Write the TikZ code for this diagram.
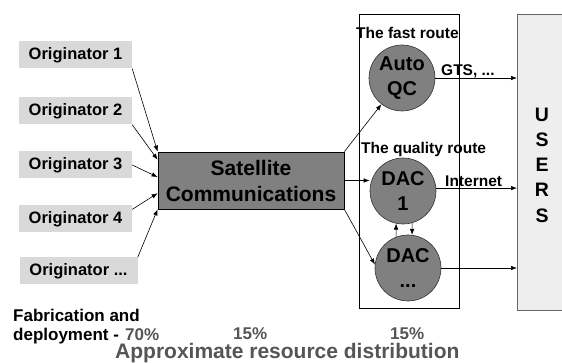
\documentclass[tikz,border=0pt]{standalone}
\usepackage{fontspec}
\setmainfont{Liberation Sans}
\usetikzlibrary{arrows.meta,calc}
\definecolor{origfill}{RGB}{217,217,217}
\definecolor{midgray}{RGB}{128,128,128}
\definecolor{usersfill}{RGB}{238,238,238}
\definecolor{pctgray}{RGB}{85,85,85}
\begin{document}
\begin{tikzpicture}[x=1pt,y=-1pt,
  orig/.style={fill=origfill, minimum width=113pt, minimum height=27pt, inner sep=0pt, font=\fontsize{16.5}{19}\selectfont\bfseries},
  proc/.style={circle, fill=midgray, draw=black!80, line width=0.6pt, minimum size=66pt, inner sep=0pt, align=center, font=\fontsize{20}{24.5}\selectfont\bfseries},
  conn/.style={-{Latex[length=6pt,width=4.5pt]}, line width=0.6pt},
  lbl/.style={font=\fontsize{15.5}{18}\selectfont\bfseries, inner sep=0pt, anchor=base west},
  bottomtxt/.style={font=\fontsize{17}{20}\selectfont\bfseries, inner sep=0pt, anchor=base west},
  pct/.style={bottomtxt, text=pctgray},
]
\useasboundingbox (0,0) rectangle (562,363);

% frames
\node[draw, line width=0.6pt, minimum width=100pt, minimum height=294pt, inner sep=0pt] (route) at (409,161) {};
\node[draw=black!60, line width=0.8pt, fill=usersfill, minimum width=60pt, minimum height=296pt, inner sep=0pt, anchor=north west] (users) at (517,14) {};
\node[font=\fontsize{19.5}{25.3}\selectfont\bfseries, align=center, inner sep=0pt] (userstxt) at (542,165) {U\\S\\E\\R\\S};

% originators
\node[orig] (o1) at (75.5,55) {Originator 1};
\node[orig] (o2) at (75.5,111) {Originator 2};
\node[orig] (o3) at (75.5,165) {Originator 3};
\node[orig] (o4) at (75.5,219) {Originator 4};
\node[orig, minimum width=118pt] (o5) at (78.5,271) {Originator ...};

% satellite
\node[draw=black, fill=midgray, line width=0.8pt, minimum width=186pt, minimum height=57pt, inner sep=0pt, align=center, font=\fontsize{21}{26}\selectfont\bfseries] (sat) at (251,180.5) {Satellite\\Communications};

% processing
\node[proc] (aqc) at (402,78) {Auto\\QC};
\node[proc] (dac1) at (403,191) {DAC\\1};
\node[proc] (dacx) at (408,268) {DAC\\...};

% labels
\node[lbl] (fast) at (356,39) {The fast route};
\node[lbl] (qual) at (361,154) {The quality route};
\node[lbl] (gts) at (441,76) {GTS, ...};
\node[lbl] (inet) at (445,187) {Internet};

% bottom text
\node[bottomtxt] (fab1) at (13,321) {Fabrication and};
\node[bottomtxt] (fab2) at (13,340) {deployment -};
\node[pct] (p70) at (125,340) {70\%};
\node[pct] (p15a) at (233,339.5) {15\%};
\node[pct] (p15b) at (390,339.5) {15\%};
\node[font=\fontsize{21}{24}\selectfont\bfseries, text=pctgray, inner sep=0pt, anchor=base west] (appr) at (115,358.5) {Approximate resource distribution};

% connectors
\draw[conn] (o1.south east) -- (sat.north west);
\draw[conn] (o2.south east) -- ($(sat.north west)!0.14!(sat.south west)$);
\draw[conn] (o3.east) -- ($(sat.north west)!0.44!(sat.south west)$);
\draw[conn] ($(o4.north east)!0.15!(o4.south east)$) -- ($(sat.north west)!0.72!(sat.south west)$);
\draw[conn] (o5.north east) -- (sat.south west);

\draw[conn] (sat.north east) -- (aqc);
\draw[conn] (sat.east) -- (sat.east -| dac1.west);
\draw[conn] (sat.south east) -- (dacx.174);

\draw[conn] (aqc.east) -- (aqc.east -| users.west);
\draw[conn] (dac1.5) -- (dac1.5 -| users.west);
\draw[conn] (dacx.east) -- (dacx.east -| users.west);

\draw[conn] (dacx.111) -- (dac1.-102);
\draw[conn] (dac1.-74) -- (dacx.83);
\end{tikzpicture}
\end{document}
